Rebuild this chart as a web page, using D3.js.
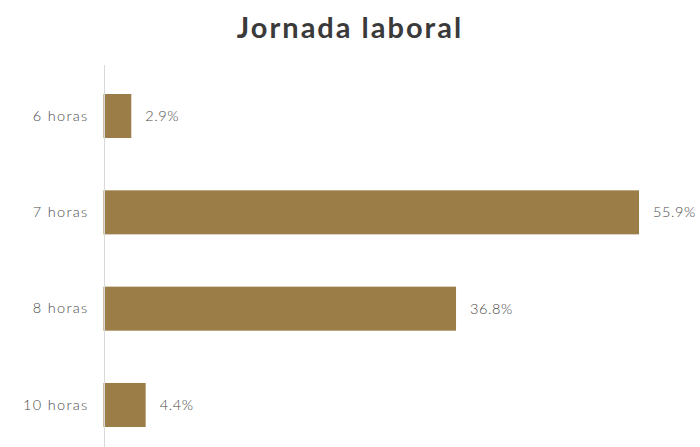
<!DOCTYPE html>
<html>
<head>
<meta charset="utf-8">
<script src="https://cdn.jsdelivr.net/npm/d3@7"></script>
<style>
  html, body { margin: 0; padding: 0; background: #fff; }
  svg { display: block; }
</style>
</head>
<body>
<svg id="chart" width="700" height="447"></svg>
<script>
// Jornada laboral: share of workers by daily working hours
const categories = ["6 horas", "7 horas", "8 horas", "10 horas"];
const values = [2.9, 55.9, 36.8, 4.4];
const valueLabels = ["2.9%", "55.9%", "36.8%", "4.4%"];
const title = "Jornada laboral";

const W = 700, H = 447;
const barColor = "#9B7D47";
const textColor = "#4a4a4a";
const fontFamily = "Lato, 'Open Sans', sans-serif";

const svg = d3.select("#chart");

const x = d3.scaleLinear().domain([0, 55.9]).range([103.5, 639]);
const y = d3.scaleBand().domain(categories).range([68, 453]).paddingInner(0.543).paddingOuter(0.27);

// Title
svg.append("text")
  .attr("x", W / 2)
  .attr("y", 38)
  .attr("text-anchor", "middle")
  .attr("font-family", fontFamily)
  .attr("font-weight", 700)
  .attr("font-size", 29)
  .attr("letter-spacing", 2)
  .attr("fill", "#3a3a3a")
  .text(title);

const rows = categories.map((c, i) => ({ cat: c, value: values[i], label: valueLabels[i] }));

// Bars
svg.append("g")
  .selectAll("rect")
  .data(rows)
  .join("rect")
  .attr("x", x(0))
  .attr("y", d => y(d.cat))
  .attr("width", d => x(d.value) - x(0))
  .attr("height", y.bandwidth())
  .attr("fill", barColor);

// Category axis on the left
const yAxis = d3.axisLeft(y).tickSize(0).tickPadding(15);
const gAxis = svg.append("g")
  .attr("transform", `translate(${x(0)},0)`)
  .call(yAxis);
gAxis.select(".domain").remove();
gAxis.selectAll("text")
  .attr("font-family", fontFamily)
  .attr("font-weight", 300)
  .attr("font-size", 14.5)
  .attr("letter-spacing", 1.3)
  .attr("fill", textColor);

// Thin vertical axis line
svg.append("line")
  .attr("x1", 104.5).attr("x2", 104.5)
  .attr("y1", 65).attr("y2", H)
  .attr("stroke", "#d9d9d9")
  .attr("stroke-width", 1);

// Value labels at the bar ends, kept inside the frame
const labels = svg.append("g")
  .selectAll("text")
  .data(rows)
  .join("text")
  .attr("y", d => y(d.cat) + y.bandwidth() / 2)
  .attr("dy", "0.35em")
  .attr("font-family", fontFamily)
  .attr("font-weight", 300)
  .attr("font-size", 14.5)
  .attr("letter-spacing", 0.6)
  .attr("fill", textColor)
  .text(d => d.label);

labels.each(function(d) {
  const w = this.getComputedTextLength();
  const px = Math.min(x(d.value) + 14, W - w - 3);
  d3.select(this).attr("x", px);
});
</script>
</body>
</html>
